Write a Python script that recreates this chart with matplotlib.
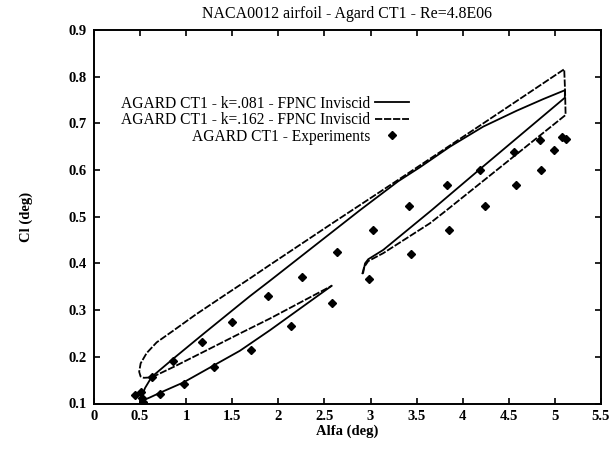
import numpy as np
import matplotlib
matplotlib.use("Agg")
import matplotlib.pyplot as plt
from matplotlib.ticker import FuncFormatter, MultipleLocator

plt.rcParams['font.family'] = ['Liberation Serif', 'DejaVu Serif']

# FPNC inviscid, k=.081 (closed loop, opened at the gap near alfa=2.7)
alfa_k081 = [2.920, 2.940, 2.975, 3.138, 3.662, 4.187, 5.108, 5.108,
             4.873, 4.584, 4.222, 3.861, 3.536, 3.300, 2.885, 1.909,
             1.692, 1.548, 1.186, 0.860, 0.626, 0.553, 0.500,
             0.607, 0.716, 0.969, 1.294, 1.583, 1.909, 2.578]
cl_k081 = [0.380, 0.400, 0.409, 0.429, 0.514, 0.602, 0.755, 0.771,
           0.752, 0.727, 0.693, 0.650, 0.606, 0.576, 0.514, 0.363,
           0.330, 0.307, 0.249, 0.196, 0.157, 0.133, 0.104,
           0.113, 0.123, 0.145, 0.181, 0.213, 0.257, 0.352]

# FPNC inviscid, k=.162
alfa_k162 = [2.910, 2.930, 2.975, 3.138, 3.644, 3.825, 5.116, 5.110,
             5.101, 4.200, 3.300, 2.600, 1.909, 1.692, 1.402, 1.100,
             0.860, 0.680, 0.571, 0.506, 0.490, 0.505, 0.540, 0.626,
             0.860, 1.222, 1.583, 1.909, 2.578]
cl_k162 = [0.377, 0.392, 0.405, 0.422, 0.486, 0.514, 0.718, 0.770,
           0.816, 0.697, 0.579, 0.488, 0.397, 0.368, 0.330, 0.290,
           0.256, 0.231, 0.208, 0.186, 0.168, 0.158, 0.155, 0.156,
           0.178, 0.214, 0.250, 0.282, 0.352]

# experiments
alfa_exp = [0.443, 0.509, 0.526, 0.530, 0.629, 0.717, 0.860, 0.974,
            1.176, 1.300, 1.498, 1.700, 1.890, 2.137, 2.257, 2.583,
            2.634, 2.987, 3.030, 3.412, 3.438, 3.856, 3.825, 4.187,
            4.241, 4.555, 4.574, 4.837, 4.845, 4.992, 5.073, 5.116]
cl_exp = [0.118, 0.125, 0.112, 0.104, 0.156, 0.121, 0.191, 0.141,
          0.232, 0.178, 0.275, 0.214, 0.330, 0.266, 0.372, 0.315,
          0.425, 0.367, 0.472, 0.523, 0.421, 0.472, 0.569, 0.600,
          0.524, 0.638, 0.568, 0.664, 0.600, 0.643, 0.670, 0.666]

fig = plt.figure(figsize=(6.13, 4.51), dpi=100)
ax = fig.add_axes([94 / 613, 1 - 403.5 / 451, 507 / 613, 373.5 / 451])

ax.plot(alfa_k081, cl_k081, color='black', lw=1.3,
        label='AGARD CT1 - k=.081 - FPNC Inviscid')
ax.plot(alfa_k162, cl_k162, color='black', lw=1.3, linestyle=(0, (4, 1)),
        label='AGARD CT1 - k=.162 - FPNC Inviscid')
ax.plot(alfa_exp, cl_exp, linestyle='none', marker='D', ms=4.4,
        color='black', label='AGARD CT1 - Experiments')

ax.set_xlim(0, 5.5)
ax.set_ylim(0.1, 0.9)
ax.xaxis.set_major_locator(MultipleLocator(0.5))
ax.yaxis.set_major_locator(MultipleLocator(0.1))
ax.xaxis.set_major_formatter(FuncFormatter(lambda v, p: '%g' % round(v, 2)))
ax.yaxis.set_major_formatter(FuncFormatter(lambda v, p: '%.1f' % v))
ax.tick_params(direction='in', length=4, width=1.2, top=True, right=True,
               labelsize=10.5, pad=5)
for lab in ax.get_xticklabels() + ax.get_yticklabels():
    lab.set_fontweight('bold')
for sp in ax.spines.values():
    sp.set_linewidth(1.4)

ax.set_title('NACA0012 airfoil - Agard CT1 - Re=4.8E06', fontsize=11.4, pad=9)
ax.set_xlabel('Alfa (deg)', fontsize=10.5, fontweight='bold', labelpad=1)
ax.set_ylabel('Cl (deg)', fontsize=10.5, fontweight='bold', labelpad=26)

ax.legend(loc='upper right', bbox_to_anchor=(0.643, 0.853), frameon=False,
          markerfirst=False, fontsize=11.2, handlelength=2.2,
          labelspacing=0.03, handletextpad=0.3, borderpad=0.2)

fig.savefig('out.png', dpi=100)
